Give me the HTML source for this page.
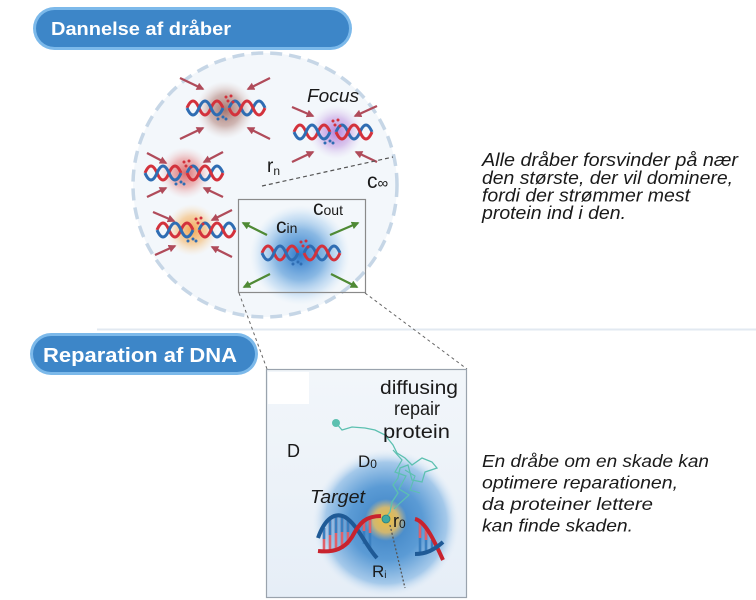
<!DOCTYPE html>
<html><head><meta charset="utf-8">
<style>
html,body{margin:0;padding:0;background:#fff;}
svg{display:block;}
text{font-family:"Liberation Sans",Arial,sans-serif;fill:#1a1a1a;}
</style></head>
<body>
<svg width="756" height="600" viewBox="0 0 756 600" xmlns="http://www.w3.org/2000/svg">
<defs>
<radialGradient id="gBrown"><stop offset="0" stop-color="rgb(140,75,65)" stop-opacity="0.75"/><stop offset="0.55" stop-color="rgb(170,115,105)" stop-opacity="0.5"/><stop offset="1" stop-color="rgb(220,195,190)" stop-opacity="0"/></radialGradient>
<radialGradient id="gPurple"><stop offset="0" stop-color="rgb(155,80,205)" stop-opacity="0.7"/><stop offset="0.55" stop-color="rgb(185,135,220)" stop-opacity="0.45"/><stop offset="1" stop-color="rgb(220,200,240)" stop-opacity="0"/></radialGradient>
<radialGradient id="gRed"><stop offset="0" stop-color="rgb(215,60,60)" stop-opacity="0.75"/><stop offset="0.55" stop-color="rgb(228,125,125)" stop-opacity="0.5"/><stop offset="1" stop-color="rgb(240,200,200)" stop-opacity="0"/></radialGradient>
<radialGradient id="gOrange"><stop offset="0" stop-color="rgb(245,145,40)" stop-opacity="0.8"/><stop offset="0.55" stop-color="rgb(245,180,100)" stop-opacity="0.55"/><stop offset="1" stop-color="rgb(250,220,180)" stop-opacity="0"/></radialGradient>
<radialGradient id="gBlue"><stop offset="0" stop-color="rgb(35,115,200)" stop-opacity="0.95"/><stop offset="0.5" stop-color="rgb(80,150,215)" stop-opacity="0.65"/><stop offset="0.8" stop-color="rgb(150,195,235)" stop-opacity="0.35"/><stop offset="1" stop-color="rgb(200,225,245)" stop-opacity="0"/></radialGradient>
<radialGradient id="gBig"><stop offset="0" stop-color="#3a80c2"/><stop offset="0.5" stop-color="#5b9bd5"/><stop offset="0.82" stop-color="#a5c9ea"/><stop offset="1" stop-color="#e4eef8" stop-opacity="0"/></radialGradient>
<radialGradient id="gYel"><stop offset="0" stop-color="#f2bf3a"/><stop offset="0.6" stop-color="#e8bf62" stop-opacity="0.85"/><stop offset="1" stop-color="#d8c08a" stop-opacity="0"/></radialGradient>
<linearGradient id="boxg" x1="0" y1="0" x2="0" y2="1"><stop offset="0" stop-color="#f2f6fa"/><stop offset="1" stop-color="#e6eef7"/></linearGradient>
<marker id="ar" viewBox="0 0 10 10" refX="8" refY="5" markerWidth="3.4" markerHeight="3.4" orient="auto" markerUnits="strokeWidth"><path d="M0,0 L10,5 L0,10 z" fill="#b04b5a"/></marker>
<marker id="ag" viewBox="0 0 10 10" refX="8" refY="5" markerWidth="3.4" markerHeight="3.4" orient="auto" markerUnits="strokeWidth"><path d="M0,0 L10,5 L0,10 z" fill="#4f8a35"/></marker>
<g id="hx">
<path d="M-39,0 Q-33,-14 -27,0 T-15,0 T-3,0" stroke="#d3323c" stroke-width="3" fill="none"/>
<path d="M-39,0 Q-33,14 -27,0 T-15,0 T-3,0" stroke="#2f6db3" stroke-width="3" fill="none"/>
<path d="M3,0 Q9,-14 15,0 T27,0 T39,0" stroke="#2f6db3" stroke-width="3" fill="none"/>
<path d="M3,0 Q9,14 15,0 T27,0 T39,0" stroke="#d3323c" stroke-width="3" fill="none"/>
<g fill="#d3323c"><circle cx="0" cy="-11" r="1.5"/><circle cx="5" cy="-12" r="1.5"/><circle cx="2" cy="-7" r="1.5"/><circle cx="7" cy="-6" r="1.5"/></g>
<g fill="#2f6db3"><circle cx="-7" cy="6" r="1.5"/><circle cx="-3" cy="9" r="1.5"/><circle cx="-8" cy="11" r="1.5"/><circle cx="0" cy="11" r="1.5"/></g>
</g>
</defs>

<rect width="756" height="600" fill="#fff"/>
<line x1="97" y1="329.5" x2="756" y2="329.5" stroke="#e2e9f1" stroke-width="2"/>

<!-- big circle -->
<circle cx="265" cy="185" r="132" fill="#f3f7fb" stroke="#c6d6e6" stroke-width="3.5" stroke-dasharray="12 7"/>

<!-- droplets -->
<circle cx="225" cy="110" r="29" fill="url(#gBrown)"/>
<circle cx="336" cy="132" r="27" fill="url(#gPurple)"/>
<circle cx="185" cy="173" r="26" fill="url(#gRed)"/>
<circle cx="192" cy="230" r="26" fill="url(#gOrange)"/>
<circle cx="300" cy="255" r="50" fill="url(#gBlue)"/>

<use href="#hx" x="226" y="108"/>
<use href="#hx" x="333" y="132"/>
<use href="#hx" x="184" y="173"/>
<use href="#hx" x="196" y="230"/>
<use href="#hx" x="301" y="253"/>

<!-- red arrows -->
<g stroke="#b04b5a" stroke-width="2.3" marker-end="url(#ar)">
<line x1="180" y1="78" x2="203" y2="89"/><line x1="270" y1="78" x2="248" y2="89"/>
<line x1="180" y1="139" x2="203" y2="128"/><line x1="270" y1="139" x2="248" y2="128"/>
<line x1="292" y1="107" x2="313" y2="116"/><line x1="377" y1="106" x2="355" y2="116"/>
<line x1="292" y1="162" x2="313" y2="152"/><line x1="377" y1="162" x2="356" y2="152"/>
<line x1="147" y1="153" x2="166" y2="163"/><line x1="223" y1="152" x2="204" y2="162"/>
<line x1="147" y1="197" x2="166" y2="188"/><line x1="223" y1="197" x2="204" y2="188"/>
<line x1="153" y1="212" x2="174" y2="221"/><line x1="232" y1="210" x2="212" y2="220"/>
<line x1="155" y1="255" x2="175" y2="246"/><line x1="232" y1="257" x2="212" y2="247"/>
</g>
<!-- green arrows -->
<g stroke="#4f8a35" stroke-width="2.3" marker-end="url(#ag)">
<line x1="267" y1="235" x2="243" y2="223"/><line x1="330" y1="235" x2="358" y2="223"/>
<line x1="270" y1="274" x2="244" y2="287"/><line x1="331" y1="274" x2="357" y2="287"/>
</g>

<!-- inner rect & lines -->
<rect x="238.5" y="199.5" width="127" height="93" fill="none" stroke="#8a8a8a" stroke-width="1.2"/>
<line x1="262" y1="186" x2="393" y2="157" stroke="#555" stroke-width="1.2" stroke-dasharray="4 3"/>
<line x1="239" y1="293" x2="267" y2="369" stroke="#666" stroke-width="1" stroke-dasharray="3 3"/>
<line x1="365" y1="293" x2="467" y2="369" stroke="#666" stroke-width="1" stroke-dasharray="3 3"/>

<!-- labels top -->
<text x="307" y="102" font-size="18" font-style="italic" textLength="52" lengthAdjust="spacingAndGlyphs">Focus</text>
<text x="267" y="172" font-size="19">r<tspan font-size="12" dy="3">n</tspan></text>
<text x="367" y="188" font-size="21">c<tspan font-size="15" dy="0">∞</tspan></text>
<text x="313" y="215" font-size="21">c<tspan font-size="14" dy="0">out</tspan></text>
<text x="276" y="233" font-size="21">c<tspan font-size="14" dy="0">in</tspan></text>

<!-- pill 1 -->
<rect x="33" y="7" width="319" height="43" rx="21.5" fill="#7cb9ea"/>
<rect x="36" y="10" width="313" height="37" rx="18.5" fill="#3d86c8"/>
<text x="51" y="35" font-size="18" font-weight="bold" style="fill:#fff" textLength="180" lengthAdjust="spacingAndGlyphs">Dannelse af dråber</text>

<!-- pill 2 -->
<rect x="30" y="333" width="228" height="42" rx="21" fill="#7cb9ea"/>
<rect x="33" y="336" width="222" height="36" rx="18" fill="#3d86c8"/>
<text x="43" y="362" font-size="20" font-weight="bold" style="fill:#fff" textLength="194" lengthAdjust="spacingAndGlyphs">Reparation af DNA</text>

<!-- right text 1 -->
<g font-size="18" font-style="italic">
<text x="482" y="166" textLength="256" lengthAdjust="spacingAndGlyphs">Alle dråber forsvinder på nær</text>
<text x="482" y="184" textLength="251" lengthAdjust="spacingAndGlyphs">den største, der vil dominere,</text>
<text x="482" y="201.5" textLength="208" lengthAdjust="spacingAndGlyphs">fordi der strømmer mest</text>
<text x="482" y="219" textLength="144" lengthAdjust="spacingAndGlyphs">protein ind i den.</text>
</g>
<g font-size="17.5" font-style="italic">
<text x="482" y="467" textLength="227" lengthAdjust="spacingAndGlyphs">En dråbe om en skade kan</text>
<text x="482" y="488.5" textLength="196" lengthAdjust="spacingAndGlyphs">optimere reparationen,</text>
<text x="482" y="510" textLength="171" lengthAdjust="spacingAndGlyphs">da proteiner lettere</text>
<text x="482" y="531.5" textLength="151" lengthAdjust="spacingAndGlyphs">kan finde skaden.</text>
</g>

<!-- repair box -->
<rect x="266.5" y="369.5" width="200" height="228" fill="url(#boxg)" stroke="#9aa3ad" stroke-width="1.2"/>
<rect x="268" y="372" width="41" height="32" fill="#fff"/>
<circle cx="386" cy="523" r="74" fill="url(#gBig)"/>
<circle cx="386" cy="520" r="21" fill="url(#gYel)"/>

<!-- DNA left -->
<g stroke-width="2.6">
<line x1="324" y1="528" x2="324" y2="550" stroke="#e0606a"/>
<line x1="324" y1="528" x2="324" y2="539" stroke="#3a7fc0"/>
<line x1="330" y1="520" x2="330" y2="550" stroke="#e0606a"/>
<line x1="330" y1="520" x2="330" y2="535" stroke="#3a7fc0"/>
<line x1="336" y1="517" x2="336" y2="550" stroke="#e0606a"/>
<line x1="336" y1="517" x2="336" y2="533" stroke="#3a7fc0"/>
<line x1="342" y1="516" x2="342" y2="549" stroke="#e0606a"/>
<line x1="342" y1="516" x2="342" y2="532" stroke="#3a7fc0"/>
<line x1="348" y1="519" x2="348" y2="545" stroke="#e0606a"/>
<line x1="348" y1="519" x2="348" y2="532" stroke="#3a7fc0"/>
<line x1="364" y1="519" x2="364" y2="544" stroke="#3a7fc0"/>
<line x1="364" y1="519" x2="364" y2="531" stroke="#e0606a"/>
<line x1="370" y1="517" x2="370" y2="551" stroke="#3a7fc0"/>
<line x1="370" y1="517" x2="370" y2="533" stroke="#e0606a"/>
</g>
<path d="M318,538 C325,518 335,512 345,517 C358,525 365,545 377,558" stroke="#1f5a96" stroke-width="4" fill="none"/>
<path d="M318,551 C335,553 345,548 352,537 C360,522 366,516 381,516" stroke="#c8232e" stroke-width="4" fill="none"/>

<!-- DNA right -->
<g stroke-width="2.6">
<line x1="420" y1="523" x2="420" y2="553" stroke="#3a7fc0"/>
<line x1="420" y1="523" x2="420" y2="538" stroke="#e0606a"/>
<line x1="426" y1="530" x2="426" y2="552" stroke="#3a7fc0"/>
<line x1="426" y1="530" x2="426" y2="540" stroke="#e0606a"/>
<line x1="432" y1="540" x2="432" y2="550" stroke="#3a7fc0"/>
</g>
<path d="M415,519 C425,521 434,540 443,560" stroke="#c8232e" stroke-width="4" fill="none"/>
<path d="M415,554 C426,554 434,550 443,542" stroke="#1f5a96" stroke-width="4" fill="none"/>

<!-- protein path -->
<polyline points="336,423 342,430 352,427 365,428 375,430 385,435 393,445 397,453 405,458 412,465 422,458 432,462 437,468 425,472 422,482 412,480 408,465 400,468 398,478 393,485 398,493 392,502 390,512 386,517" fill="none" stroke="#5cc0b0" stroke-width="1.3"/>
<polyline points="393,450 402,460 395,472 406,476 399,489 409,495 400,503 394,509" fill="none" stroke="#5cc0b0" stroke-width="1.2"/>
<polyline points="405,470 415,476 410,490 420,493" fill="none" stroke="#5cc0b0" stroke-width="1.1"/>
<circle cx="336" cy="423" r="4" fill="#5cc0b0"/>
<circle cx="386" cy="519" r="4" fill="#3fa8a0" stroke="#2a7f80" stroke-width="0.8"/>
<line x1="390" y1="525" x2="405" y2="588" stroke="#555" stroke-width="1.3" stroke-dasharray="2 2"/>

<!-- repair labels -->
<text x="380" y="394" font-size="19" textLength="78" lengthAdjust="spacingAndGlyphs">diffusing</text>
<text x="394" y="415" font-size="19" textLength="46" lengthAdjust="spacingAndGlyphs">repair</text>
<text x="383" y="438" font-size="19" textLength="67" lengthAdjust="spacingAndGlyphs">protein</text>
<text x="287" y="457" font-size="18">D</text>
<text x="358" y="467" font-size="17">D<tspan font-size="12" dy="1">0</tspan></text>
<text x="310" y="503" font-size="18" font-style="italic" textLength="55" lengthAdjust="spacingAndGlyphs">Target</text>
<text x="393" y="527" font-size="18">r<tspan font-size="12" dy="1">0</tspan></text>
<text x="372" y="577" font-size="17">R<tspan font-size="10" dy="1">i</tspan></text>
</svg>
</body></html>
